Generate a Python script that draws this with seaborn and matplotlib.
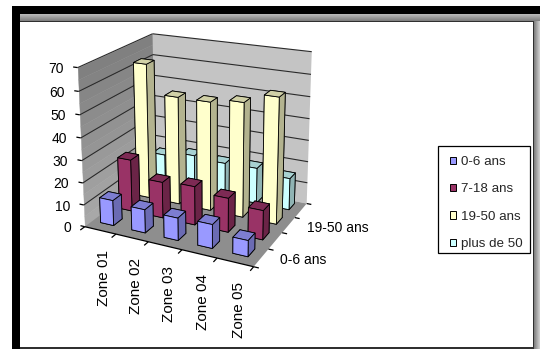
import numpy as np
import matplotlib
matplotlib.use("Agg")
import matplotlib.pyplot as plt
import seaborn as sns
from matplotlib.patches import Patch, Rectangle
from mpl_toolkits.mplot3d import Axes3D  # noqa: F401
from mpl_toolkits.mplot3d import proj3d
from mpl_toolkits.mplot3d.art3d import Line3DCollection, Poly3DCollection

zones = ["Zone 01", "Zone 02", "Zone 03", "Zone 04", "Zone 05"]
series_names = ["0-6 ans", "7-18 ans", "19-50 ans", "plus de 50"]
depth_labels = ["0-6 ans", "", "19-50 ans", ""]
series_hex = ["#9999FF", "#993366", "#FFFFCC", "#CCFFFF"]

age_0_6 = [11.5, 10.5, 10, 10.5, 7]
age_7_18 = [24, 16.5, 17.5, 15.3, 13]
age_19_50 = [63, 50, 50, 52, 56.5]
age_over_50 = [15, 17.3, 16.3, 16.7, 14.7]
series_values = [age_0_6, age_7_18, age_19_50, age_over_50]
z_ticks = list(range(0, 71, 10))

W, H = 540, 349
sns.set_theme(style="white", font="Liberation Sans")
palette = sns.color_palette(series_hex)

fig = plt.figure(figsize=(W / 100, H / 100), dpi=100, facecolor="white")

# Window-style frame behind the chart
bg = fig.add_axes([0, 0, 1, 1], zorder=-1)
bg.imshow(np.linspace(0.72, 0.5, 8)[:, None], extent=(20, W, 21, 14), aspect="auto",
          cmap="gray", vmin=0, vmax=1)
bg.imshow(np.linspace(0.45, 0.8, 8)[None, :], extent=(533, W, H, 21), aspect="auto",
          cmap="gray", vmin=0, vmax=1)
bg.set_xlim(0, W)
bg.set_ylim(H, 0)
bg.axis("off")
bg.add_patch(Rectangle((12, 6), W - 12, 8, fc="black", ec="none"))
bg.add_patch(Rectangle((12, 6), 8, H - 6, fc="black", ec="none"))
bg.add_patch(Rectangle((20, 20.5), 514, 1.2, fc="#303030", ec="none"))
bg.add_patch(Rectangle((532.8, 20.5), 1.2, H - 20, fc="#303030", ec="none"))
bg.add_patch(Rectangle((20, 347), 514, 2, fc="#303030", ec="none"))

# Camera fitted to the box corners: (zone, depth, value) -> canvas pixel
box_world = np.array([[0, 0, 0], [5, 0, 0], [5, 4, 0],
                      [0, 0, 70], [0, 4, 70], [5, 4, 70]], float)
box_canvas = np.array([[85, 227], [253, 267], [307, 203],
                       [78, 67], [152, 34], [312, 52]], float)


def camera_matrix(world, canvas):
    rows = []
    for (x, y, z), (u, v) in zip(world, canvas):
        rows.append([x, y, z, 1, 0, 0, 0, 0, -u * x, -u * y, -u * z, -u])
        rows.append([0, 0, 0, 0, x, y, z, 1, -v * x, -v * y, -v * z, -v])
    p = np.linalg.svd(np.array(rows))[2][-1].reshape(3, 4)
    p = p / (p[2] @ [2.5, 2, 35, 1])
    depth = p[2] - np.array([0, 0, 0, 0.5])
    return np.vstack([p[0], p[1], depth, p[2]])


side = max(W, H)
ax = fig.add_axes([(W - side) / 2 / W, (H - side) / 2 / H, side / W, side / H],
                  projection="3d", computed_zorder=False)
ax.patch.set_visible(False)
ax.set_axis_off()
camera = camera_matrix(box_world, box_canvas)
ax.get_proj = lambda: camera
ax.viewLim.intervalx = ((W - side) / 2, (W + side) / 2)
ax.viewLim.intervaly = ((H + side) / 2, (H - side) / 2)


def canvas_point(x, y, z):
    u, v, _ = proj3d.proj_transform(x, y, z, camera)
    return float(u), float(v)


n_zones, n_depth, z_top = len(zones), len(series_values), z_ticks[-1]

# Left wall darkens towards the top, back wall is flat, floor is mid grey
n_bands = 14
band_edges = np.linspace(0, z_top, n_bands + 1)
for k in range(n_bands):
    low, high = band_edges[k], band_edges[k + 1]
    level = 0.66 - 0.16 * k / (n_bands - 1)
    left_band = [[0, 0, low], [0, n_depth, low], [0, n_depth, high], [0, 0, high]]
    ax.add_collection3d(Poly3DCollection([left_band], facecolors=(level, level, level),
                                         edgecolors=(level, level, level), linewidths=0.3, zorder=1))
back_wall = [[0, n_depth, 0], [n_zones, n_depth, 0], [n_zones, n_depth, z_top], [0, n_depth, z_top]]
floor = [[0, 0, 0], [n_zones, 0, 0], [n_zones, n_depth, 0], [0, n_depth, 0]]
ax.add_collection3d(Poly3DCollection([back_wall], facecolors="#c4c4c4", edgecolors="none", zorder=1))
ax.add_collection3d(Poly3DCollection([floor], facecolors="#8e8e8e", edgecolors="none", zorder=1))

# Gridlines on both walls
grid_segments = []
for tick in z_ticks[1:]:
    grid_segments.append([(0, 0, tick), (0, n_depth, tick)])
    grid_segments.append([(0, n_depth, tick), (n_zones, n_depth, tick)])
ax.add_collection3d(Line3DCollection(grid_segments, colors="#2a2a2a", linewidths=0.8, zorder=2))

# Tick marks on the value axis and the two floor edges, plus the front edge
tick_segments = [[(0, 0, 0), (n_zones, 0, 0)]]
for tick in z_ticks:
    tick_segments.append([(-0.14, 0, tick), (0, 0, tick)])
for i in range(n_zones + 1):
    tick_segments.append([(i, 0, 0), (i, -0.22, 0)])
for j in range(n_depth + 1):
    tick_segments.append([(n_zones, j, 0), (n_zones + 0.14, j, 0)])
ax.add_collection3d(Line3DCollection(tick_segments, colors="black", linewidths=0.9, zorder=2))

# Columns, painted from the back row forward
bar_width = 0.42
bar_depth = 0.45
x_offset = 0.26
y_offset = 0.4
for j in range(n_depth - 1, -1, -1):
    base = np.array(palette[j])
    top = tuple(base * 0.82)
    side_face = tuple(base * 0.7)
    front = tuple(base)
    face_colors = [side_face, top, front, side_face, side_face, side_face]
    for i in range(n_zones):
        ax.bar3d(i + x_offset, j + y_offset, 0, bar_width, bar_depth, series_values[j][i],
                 color=face_colors, edgecolor="black", linewidth=0.6, shade=False,
                 zorder=10 + (n_depth - j) * 10 + i)

# Axis labels, anchored at projected positions on the box edges
for tick in z_ticks:
    bg.annotate(str(tick), canvas_point(0, 0, tick), xytext=(-13.5, -1.5), textcoords="offset pixels",
                ha="right", va="center", fontsize=10, color="black")
for i, zone in enumerate(zones):
    bg.annotate(zone, canvas_point(i + 0.5, 0, 0), xytext=(4, -20), textcoords="offset pixels",
                rotation=90, ha="center", va="top", fontsize=11, color="black")
for j, label in enumerate(depth_labels):
    if label:
        bg.annotate(label, canvas_point(n_zones, j + 0.5, 0), xytext=(18.5, -2.5),
                    textcoords="offset pixels", ha="left", va="center", fontsize=10, color="black")

# Legend
fig.add_artist(Rectangle((438 / W, 1 - 253 / H), 92 / W, 107 / H, transform=fig.transFigure,
                         fc="white", ec="black", lw=0.9, zorder=4))
handles = [Patch(facecolor=c, edgecolor="black", linewidth=0.7) for c in palette]
fig.legend(handles, series_names, loc="upper left", bbox_to_anchor=(450 / W, 1 - 156 / H),
           frameon=False, fontsize=9.6, borderpad=0, borderaxespad=0, handlelength=0.45,
           handleheight=0.45, handletextpad=0.4, labelspacing=1.15)

fig.savefig("out.png", dpi=100)
